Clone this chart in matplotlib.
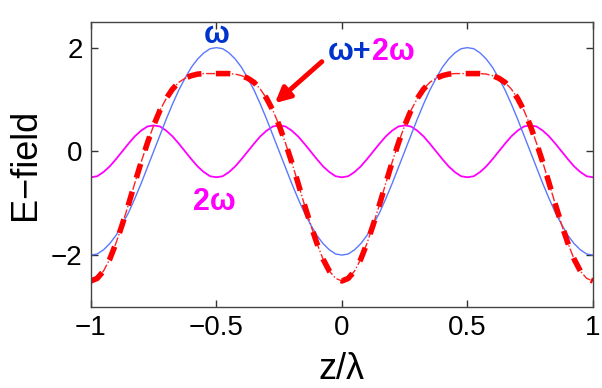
import matplotlib
matplotlib.use('Agg')
import matplotlib.pyplot as plt

# z / lambda sampled every 0.025 from -1 to 1
z = [round(-1 + 0.025 * i, 3) for i in range(81)]

# fundamental (omega) field
omega = [-2.00, -1.98, -1.90, -1.78, -1.62, -1.41, -1.18, -0.91, -0.62, -0.31,
         0.00, 0.31, 0.62, 0.91, 1.18, 1.41, 1.62, 1.78, 1.90, 1.98,
         2.00, 1.98, 1.90, 1.78, 1.62, 1.41, 1.18, 0.91, 0.62, 0.31,
         0.00, -0.31, -0.62, -0.91, -1.18, -1.41, -1.62, -1.78, -1.90, -1.98,
         -2.00, -1.98, -1.90, -1.78, -1.62, -1.41, -1.18, -0.91, -0.62, -0.31,
         0.00, 0.31, 0.62, 0.91, 1.18, 1.41, 1.62, 1.78, 1.90, 1.98,
         2.00, 1.98, 1.90, 1.78, 1.62, 1.41, 1.18, 0.91, 0.62, 0.31,
         0.00, -0.31, -0.62, -0.91, -1.18, -1.41, -1.62, -1.78, -1.90, -1.98,
         -2.00]

# second harmonic (2 omega)
omega2 = [-0.50, -0.48, -0.40, -0.29, -0.15, 0.00, 0.15, 0.29, 0.40, 0.48,
          0.50, 0.48, 0.40, 0.29, 0.15, 0.00, -0.15, -0.29, -0.40, -0.48,
          -0.50, -0.48, -0.40, -0.29, -0.15, 0.00, 0.15, 0.29, 0.40, 0.48,
          0.50, 0.48, 0.40, 0.29, 0.15, 0.00, -0.15, -0.29, -0.40, -0.48,
          -0.50, -0.48, -0.40, -0.29, -0.15, 0.00, 0.15, 0.29, 0.40, 0.48,
          0.50, 0.48, 0.40, 0.29, 0.15, 0.00, -0.15, -0.29, -0.40, -0.48,
          -0.50, -0.48, -0.40, -0.29, -0.15, 0.00, 0.15, 0.29, 0.40, 0.48,
          0.50, 0.48, 0.40, 0.29, 0.15, 0.00, -0.15, -0.29, -0.40, -0.48,
          -0.50]

# total field (omega + 2 omega)
total = [-2.50, -2.45, -2.31, -2.08, -1.77, -1.41, -1.02, -0.61, -0.21, 0.16,
         0.50, 0.79, 1.02, 1.20, 1.33, 1.41, 1.46, 1.49, 1.50, 1.50,
         1.50, 1.50, 1.50, 1.49, 1.46, 1.41, 1.33, 1.20, 1.02, 0.79,
         0.50, 0.16, -0.21, -0.61, -1.02, -1.41, -1.77, -2.08, -2.31, -2.45,
         -2.50, -2.45, -2.31, -2.08, -1.77, -1.41, -1.02, -0.61, -0.21, 0.16,
         0.50, 0.79, 1.02, 1.20, 1.33, 1.41, 1.46, 1.49, 1.50, 1.50,
         1.50, 1.50, 1.50, 1.49, 1.46, 1.41, 1.33, 1.20, 1.02, 0.79,
         0.50, 0.16, -0.21, -0.61, -1.02, -1.41, -1.77, -2.08, -2.31, -2.45,
         -2.50]

xticks = [-1, -0.5, 0, 0.5, 1]
xticklabels = ['\u22121', '\u22120.5', '0', '0.5', '1']
yticks = [-2, 0, 2]
yticklabels = ['\u22122', '0', '2']

plt.rcParams['font.family'] = ['Liberation Sans', 'DejaVu Sans']

fig = plt.figure(figsize=(6.02, 3.88), dpi=100)
ax = fig.add_axes([0.151, 0.209, 0.834, 0.735])

ax.plot(z, omega2, color='#ff00ff', lw=1.3)
ax.plot(z, omega, color='#5a78ff', lw=1.0)
ax.plot(z, total, color='#ff2020', lw=1.0, ls='-.')
ax.plot(z, total, color='#ff0000', lw=4.0, dashes=(2.6, 2.6))

ax.set_xlim(-1, 1)
ax.set_ylim(-3, 2.5)
ax.set_xticks(xticks)
ax.set_xticklabels(xticklabels)
ax.set_yticks(yticks)
ax.set_yticklabels(yticklabels)
ax.tick_params(direction='in', length=5, width=1, labelsize=20, colors='#333333',
               top=True, right=True, pad=6)
for lab in ax.get_xticklabels() + ax.get_yticklabels():
    lab.set_color('black')
for s in ax.spines.values():
    s.set_color('#444444')
    s.set_linewidth(1.0)

ax.set_xlabel('z/\u03bb', fontsize=26, labelpad=8)
ax.set_ylabel('E\u2212field', fontsize=26, labelpad=6)

blue = '#0033cc'
mag = '#ff00ff'
ax.text(-0.5, 2.25, '\u03c9', color=blue, fontsize=22, fontweight='bold',
        ha='center', va='center')
t1 = ax.text(-0.056, 1.92, '\u03c9+', color=blue, fontsize=22, fontweight='bold',
             ha='left', va='center')
ax.annotate('2\u03c9', xy=(1, 0), xycoords=t1, color=mag, fontsize=22,
            fontweight='bold', ha='left', va='bottom')
ax.text(-0.51, -0.97, '2\u03c9', color=mag, fontsize=22, fontweight='bold',
        ha='center', va='center')

ax.annotate('', xy=(-0.267, 0.93), xytext=(-0.08, 1.73),
            arrowprops=dict(arrowstyle='-|>,head_width=0.45,head_length=0.9',
                            color='#ff0000', lw=3.5, shrinkA=0, shrinkB=0))

fig.savefig('out.png', dpi=100)
